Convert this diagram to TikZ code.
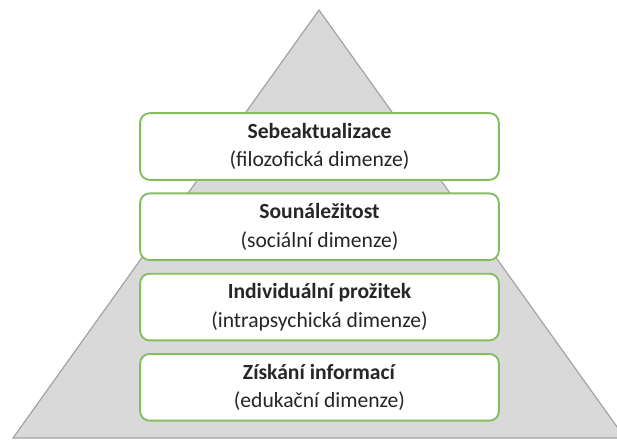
\documentclass[tikz,border=0pt]{standalone}
\usepackage{fontspec}
\setmainfont{Carlito}
\usetikzlibrary{positioning}
\definecolor{levelgreen}{HTML}{84BD5F}
\definecolor{pyramidedge}{HTML}{A3A3A3}

\begin{document}
\begin{tikzpicture}[x=0.75pt,y=-0.75pt,
	pyramid/.style={fill=gray!30,draw=pyramidedge,line width=0.9pt},
	level/.style={draw=levelgreen,line width=1.4pt,fill=white,rounded corners=7pt,
		minimum width=269pt,minimum height=50pt,align=center,text=black!85,
		font=\fontsize{16.2}{21.3}\selectfont},
	node distance=8.8pt]
	\useasboundingbox (0,0) rectangle (617,441);
	\clip (0,0) rectangle (617,441);
	% the pyramid
	\coordinate (apex) at (319,10);
	\coordinate (baseleft) at (13,438);
	\coordinate (baseright) at (625,438);
	\filldraw[pyramid] (apex) -- (baseleft) -- (baseright) -- cycle;
	% levels, top to bottom
	\node[level] (lvla) at (319.5,146.5) {\textbf{Sebeaktualizace}\\(filozofická dimenze)};
	\node[level,below=of lvla] (lvlb) {\textbf{Sounáležitost}\\(sociální dimenze)};
	\node[level,below=of lvlb] (lvlc) {\textbf{Individuální prožitek}\\(intrapsychická dimenze)};
	\node[level,below=of lvlc] (lvld) {\textbf{Získání informací}\\(edukační dimenze)};
\end{tikzpicture}
\end{document}
